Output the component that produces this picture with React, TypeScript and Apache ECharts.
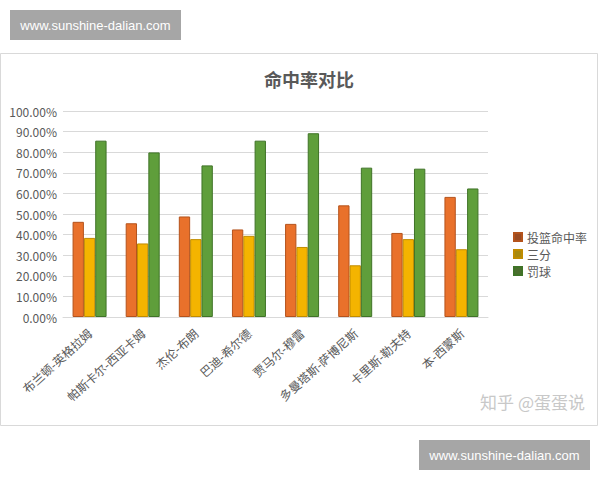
import React, { useEffect, useRef } from 'react';
import * as echarts from 'echarts';

const players = [
  '布兰顿-英格拉姆',
  '帕斯卡尔-西亚卡姆',
  '杰伦-布朗',
  '巴迪-希尔德',
  '贾马尔-穆雷',
  '多曼塔斯-萨博尼斯',
  '卡里斯-勒夫特',
  '本-西蒙斯',
];
const fieldGoal = [46.2, 45.5, 48.8, 42.5, 45.2, 54.2, 40.8, 58.3]; // 投篮命中率
const threePoint = [38.4, 35.7, 37.8, 39.4, 34.0, 25.1, 37.8, 32.9]; // 三分
const freeThrow = [85.6, 79.9, 73.6, 85.6, 89.2, 72.5, 72.0, 62.4]; // 罚球

const FONT = '"Noto Sans CJK SC", "Noto Sans", sans-serif';
const BADGE_FONT = '"Liberation Sans", sans-serif';

const App: React.FC = () => {
  const chartRef = useRef<HTMLDivElement | null>(null);

  useEffect(() => {
    if (!chartRef.current) return;
    const myChart = echarts.init(chartRef.current, null, { renderer: 'svg' });

    const bar = (name: string, data: number[], color: string, border: string) => ({
      name,
      type: 'bar',
      data,
      barGap: '0%',
      barCategoryGap: '36%',
      itemStyle: { color, borderColor: border, borderWidth: 1 },
    });

    const badge = (x: number, y: number) => [
      {
        type: 'rect',
        shape: { x, y, width: 171, height: 30 },
        style: { fill: '#a6a6a6' },
      },
      {
        type: 'text',
        x: x + 85.5,
        y: y + 15,
        style: {
          text: 'www.sunshine-dalian.com',
          fill: '#ffffff',
          fontSize: 13,
          fontFamily: BADGE_FONT,
          align: 'center',
          verticalAlign: 'middle',
        },
      },
    ];

    const option = {
      animation: false,
      backgroundColor: '#ffffff',
      textStyle: { fontFamily: FONT },
      title: {
        text: '命中率对比',
        left: 304,
        top: 65,
        textAlign: 'center',
        textStyle: { fontSize: 18, fontWeight: 'bold', color: '#595959', fontFamily: FONT },
      },
      legend: {
        orient: 'vertical',
        left: 508,
        top: 226,
        itemWidth: 8,
        itemHeight: 8,
        itemGap: 5,
        icon: 'rect',
        textStyle: { fontSize: 12, color: '#595959', fontFamily: FONT },
        data: [
          { name: '投篮命中率', itemStyle: { color: '#9a4b22' } },
          { name: '三分', itemStyle: { color: '#a88a10' } },
          { name: '罚球', itemStyle: { color: '#4a6e2e' } },
        ],
      },
      grid: { left: 63, right: 112, top: 111, bottom: 163, containLabel: false },
      xAxis: {
        type: 'category',
        data: players,
        axisLine: { lineStyle: { color: '#d9d9d9' } },
        axisTick: { show: false },
        axisLabel: { rotate: 42, fontSize: 12, color: '#595959', margin: 14, fontFamily: FONT },
      },
      yAxis: {
        type: 'value',
        min: 0,
        max: 100,
        interval: 10,
        axisLine: { show: false },
        axisTick: { show: false },
        splitLine: { lineStyle: { color: '#d9d9d9' } },
        axisLabel: {
          fontSize: 12,
          color: '#595959',
          margin: 6,
          fontFamily: FONT,
          formatter: (v: number) => v.toFixed(2) + '%',
        },
      },
      series: [
        bar('投篮命中率', fieldGoal, '#e9712b', '#b4531c'),
        bar('三分', threePoint, '#f4b400', '#c08c00'),
        bar('罚球', freeThrow, '#5f9e3b', '#3f7327'),
      ],
      graphic: [
        {
          type: 'rect',
          z: -10,
          shape: { x: 0.5, y: 53.5, width: 597, height: 372 },
          style: { fill: '#ffffff', stroke: '#d9d9d9', lineWidth: 1 },
        },
        ...badge(10, 10),
        ...badge(419, 440),
        {
          type: 'text',
          x: 585,
          y: 401,
          style: {
            text: '知乎 @蛋蛋说',
            fill: '#c8c8c8',
            fontSize: 17,
            fontFamily: FONT,
            align: 'right',
            verticalAlign: 'middle',
          },
        },
      ],
    };

    myChart.setOption(option);
    return () => {
      myChart.dispose();
    };
  }, []);

  return (
    <div
      ref={chartRef}
      style={{ position: 'fixed', left: 0, top: 0, width: '600px', height: '480px' }}
    />
  );
};

export default App;
